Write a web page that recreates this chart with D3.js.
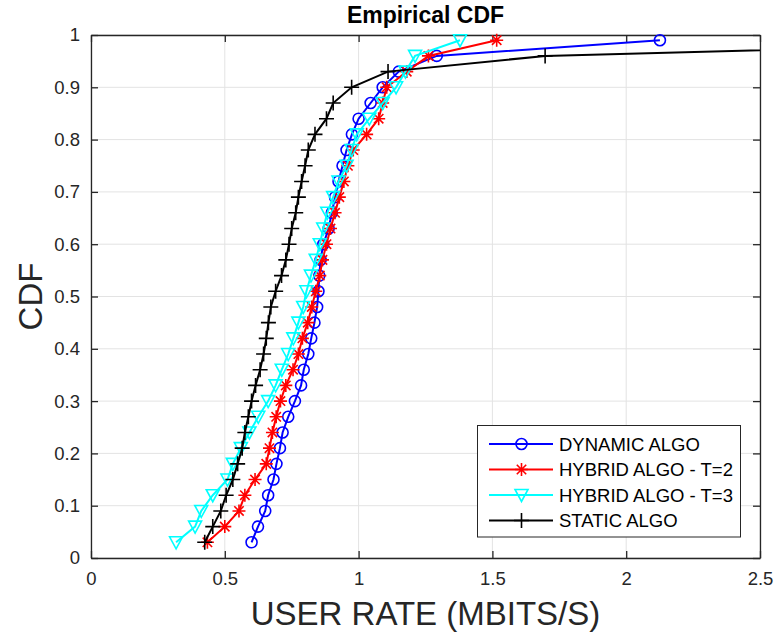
<!DOCTYPE html>
<html>
<head>
<meta charset="utf-8">
<script src="https://cdn.jsdelivr.net/npm/d3@7"></script>
<style>
  html, body { margin: 0; padding: 0; background: #fff; }
  svg { display: block; font-family: "Liberation Sans", Arial, Helvetica, sans-serif; }
</style>
</head>
<body>
<svg id="chart" width="776" height="637"></svg>
<script>
// ---- data ----
const cdfLevels = [0.03,0.06,0.09,0.12,0.15,0.18,0.21,0.24,0.27,0.30,0.33,0.36,0.39,0.42,0.45,0.48,0.51,0.54,0.57,0.60,0.63,0.66,0.69,0.72,0.75,0.78,0.81,0.84,0.87,0.90,0.93,0.96,0.99];

const dynamicRates = [0.600,0.624,0.651,0.662,0.682,0.693,0.706,0.716,0.737,0.762,0.785,0.795,0.812,0.823,0.835,0.845,0.850,0.853,0.858,0.868,0.888,0.900,0.912,0.925,0.940,0.955,0.975,1.000,1.045,1.090,1.150,1.292,2.126];
const hybridT2Rates = [0.435,0.500,0.553,0.575,0.613,0.655,0.667,0.678,0.692,0.708,0.728,0.755,0.775,0.790,0.810,0.825,0.840,0.855,0.865,0.880,0.895,0.912,0.928,0.945,0.960,0.980,1.030,1.075,1.090,1.105,1.180,1.261,1.516];
const hybridT3Rates = [0.318,0.389,0.412,0.455,0.510,0.530,0.560,0.592,0.625,0.662,0.690,0.713,0.737,0.756,0.775,0.793,0.805,0.822,0.840,0.855,0.868,0.883,0.905,0.925,0.955,0.974,0.993,1.040,1.090,1.140,1.175,1.211,1.379];
const staticRates = [0.425,0.455,0.485,0.505,0.530,0.548,0.565,0.575,0.588,0.600,0.615,0.632,0.645,0.655,0.663,0.672,0.690,0.712,0.728,0.740,0.750,0.765,0.775,0.787,0.800,0.812,0.837,0.880,0.905,0.974,1.110,1.697,3.900];

const seriesNames = ["DYNAMIC ALGO", "HYBRID ALGO - T=2", "HYBRID ALGO - T=3", "STATIC ALGO"];
const seriesColors = ["#0000ff", "#ff0000", "#00ffff", "#000000"];
const seriesMarkers = ["circle", "star", "triangle", "plus"];
const xTicks = [0, 0.5, 1, 1.5, 2, 2.5];
const yTicks = [0, 0.1, 0.2, 0.3, 0.4, 0.5, 0.6, 0.7, 0.8, 0.9, 1];

const titleText = "Empirical CDF";
const xLabel = "USER RATE (MBITS/S)";
const yLabel = "CDF";

// ---- layout ----
const W = 776, H = 637;
const L = 91, R = 760, T = 35, B = 558;
const axisColor = "#262626";

const svg = d3.select("#chart");
const x = d3.scaleLinear().domain([0, 2.5]).range([L, R]);
const y = d3.scaleLinear().domain([0, 1]).range([B, T]);

// grid
const grid = svg.append("g");
grid.selectAll("line.vx").data(xTicks).join("line")
  .attr("x1", d => x(d)).attr("x2", d => x(d)).attr("y1", T).attr("y2", B)
  .attr("stroke", "#e3e3e3").attr("stroke-width", 1);
grid.selectAll("line.hy").data(yTicks).join("line")
  .attr("x1", L).attr("x2", R).attr("y1", d => y(d)).attr("y2", d => y(d))
  .attr("stroke", "#e3e3e3").attr("stroke-width", 1);

// axes
const fmt = d => d3.format("~g")(d);
const tickLen = 7;
function styleAxis(g) {
  g.selectAll("path.domain").attr("stroke", axisColor).attr("stroke-width", 1.3);
  g.selectAll(".tick line").attr("stroke", axisColor).attr("stroke-width", 1.3);
  g.selectAll("text").attr("fill", axisColor).style("font-size", "18.5px")
    .style("font-family", "'Liberation Sans', Arial, Helvetica, sans-serif");
}
svg.append("g").attr("transform", `translate(0,${B})`)
  .call(d3.axisBottom(x).tickValues(xTicks).tickFormat(fmt).tickSizeInner(-tickLen).tickSizeOuter(0).tickPadding(14))
  .call(styleAxis);
svg.append("g").attr("transform", `translate(0,${T})`)
  .call(d3.axisTop(x).tickValues(xTicks).tickFormat("").tickSizeInner(-tickLen).tickSizeOuter(0))
  .call(styleAxis);
svg.append("g").attr("transform", `translate(${L},0)`)
  .call(d3.axisLeft(y).tickValues(yTicks).tickFormat(fmt).tickSizeInner(-tickLen).tickSizeOuter(0).tickPadding(11))
  .call(styleAxis);
svg.append("g").attr("transform", `translate(${R},0)`)
  .call(d3.axisRight(y).tickValues(yTicks).tickFormat("").tickSizeInner(-tickLen).tickSizeOuter(0))
  .call(styleAxis);

// clip
svg.append("defs").append("clipPath").attr("id", "plotclip")
  .append("rect").attr("x", L).attr("y", T - 8).attr("width", R - L).attr("height", B - T + 16);

// markers
function drawMarker(g, type, color) {
  const sw = 1.6;
  if (type === "circle") {
    g.append("circle").attr("r", 5.5).attr("fill", "none").attr("stroke", color).attr("stroke-width", sw);
  } else if (type === "star") {
    const s = 6.5, d = 4.7;
    g.append("path").attr("d", `M${-s},0L${s},0M0,${-s}L0,${s}M${-d},${-d}L${d},${d}M${-d},${d}L${d},${-d}`)
      .attr("stroke", color).attr("stroke-width", sw).attr("fill", "none");
  } else if (type === "triangle") {
    g.append("path").attr("d", "M-6.5,-5.5L6.5,-5.5L0,6.5Z")
      .attr("stroke", color).attr("stroke-width", sw).attr("fill", "none");
  } else if (type === "plus") {
    const s = 7.5;
    g.append("path").attr("d", `M${-s},0L${s},0M0,${-s}L0,${s}`)
      .attr("stroke", color).attr("stroke-width", sw).attr("fill", "none");
  }
}

const allRates = [dynamicRates, hybridT2Rates, hybridT3Rates, staticRates];
const plotG = svg.append("g").attr("clip-path", "url(#plotclip)");
const line = d3.line().x(d => x(d[0])).y(d => y(d[1]));

allRates.forEach((rates, i) => {
  const pts = rates.map((r, k) => [r, cdfLevels[k]]);
  const g = plotG.append("g");
  g.append("path").datum(pts).attr("d", line)
    .attr("fill", "none").attr("stroke", seriesColors[i]).attr("stroke-width", 2);
  g.selectAll("g.m").data(pts).join("g")
    .attr("transform", d => `translate(${x(d[0])},${y(d[1])})`)
    .each(function () { drawMarker(d3.select(this), seriesMarkers[i], seriesColors[i]); });
});

// legend
const lg = svg.append("g");
lg.append("rect").attr("x", 477.5).attr("y", 425.5).attr("width", 263).attr("height", 111.5)
  .attr("fill", "#fff").attr("stroke", axisColor).attr("stroke-width", 1);
seriesNames.forEach((name, i) => {
  const cy = 444 + i * 25.5;
  lg.append("line").attr("x1", 489).attr("x2", 553).attr("y1", cy).attr("y2", cy)
    .attr("stroke", seriesColors[i]).attr("stroke-width", 2);
  drawMarker(lg.append("g").attr("transform", `translate(521.5,${cy})`), seriesMarkers[i], seriesColors[i]);
  lg.append("text").attr("x", 559).attr("y", cy).attr("dy", "0.36em")
    .attr("fill", "#000").style("font-size", "18.5px").text(name);
});

// title and labels
svg.append("text").attr("x", (L + R) / 2).attr("y", 23).attr("text-anchor", "middle")
  .style("font-size", "23px").style("font-weight", "bold").attr("fill", "#000").text(titleText);
svg.append("text").attr("x", (L + R) / 2).attr("y", 625).attr("text-anchor", "middle")
  .style("font-size", "33px").attr("fill", axisColor).text(xLabel);
svg.append("text").attr("transform", `translate(42,${(T + B) / 2}) rotate(-90)`).attr("text-anchor", "middle")
  .style("font-size", "33px").attr("fill", axisColor).text(yLabel);
</script>
</body>
</html>
